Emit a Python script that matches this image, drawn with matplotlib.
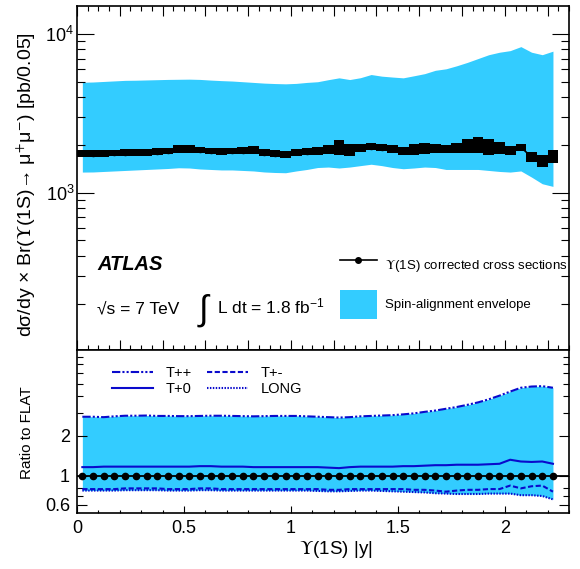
import matplotlib
matplotlib.use("Agg")
import matplotlib.pyplot as plt
import numpy as np
from matplotlib.font_manager import FontProperties
from matplotlib.lines import Line2D
from matplotlib.patches import Patch
from matplotlib.ticker import FixedLocator, MultipleLocator, NullFormatter, FixedFormatter

plt.rcParams["font.family"] = ["Liberation Sans", "DejaVu Sans"]
plt.rcParams["mathtext.fontset"] = "custom"
plt.rcParams["mathtext.rm"] = "Liberation Sans"
plt.rcParams["mathtext.it"] = "Liberation Sans:italic"
plt.rcParams["mathtext.bf"] = "Liberation Sans:bold"

# ---- data (bins of 0.05 in |y|) ----
y_centres = np.round(np.arange(0.025, 2.226, 0.05), 3)

xsec = [1770, 1760, 1770, 1780, 1790, 1800, 1800, 1810, 1830, 1880,
        1890, 1860, 1830, 1820, 1830, 1840, 1850, 1790, 1760, 1740,
        1800, 1810, 1830, 1870, 1930, 1860, 1900, 1950, 1920, 1880,
        1830, 1880, 1890, 1890, 1880, 1920, 1970, 1990, 1940, 1920,
        1850, 1930, 1680, 1590, 1690]
xsec_relerr = [0.05, 0.05, 0.05, 0.05, 0.05, 0.05, 0.05, 0.05, 0.05, 0.06,
               0.06, 0.05, 0.05, 0.05, 0.05, 0.05, 0.06, 0.05, 0.05, 0.05,
               0.05, 0.05, 0.055, 0.07, 0.12, 0.095, 0.06, 0.05, 0.055, 0.06,
               0.06, 0.085, 0.085, 0.07, 0.06, 0.077, 0.11, 0.12, 0.13, 0.09,
               0.07, 0.055, 0.077, 0.094, 0.097]
env_hi = [4960, 4980, 5020, 5060, 5100, 5110, 5130, 5150, 5170, 5180,
          5190, 5170, 5120, 5080, 5050, 5000, 4950, 4900, 4870, 4850,
          4880, 4950, 5000, 5150, 5290, 5160, 5300, 5550, 5420, 5350,
          5290, 5450, 5620, 5900, 6030, 6300, 6620, 7000, 7400, 7670,
          7850, 8320, 7670, 7400, 7790]
env_lo = [1348, 1350, 1360, 1370, 1380, 1390, 1400, 1410, 1420, 1435,
          1430, 1410, 1400, 1390, 1390, 1380, 1370, 1350, 1340, 1335,
          1370, 1400, 1440, 1450, 1430, 1450, 1480, 1510, 1480, 1440,
          1415, 1430, 1450, 1440, 1400, 1400, 1400, 1400, 1380, 1360,
          1348, 1370, 1253, 1138, 1095]

ratio_tpp = [2.80, 2.80, 2.78, 2.82, 2.85, 2.85, 2.86, 2.84, 2.84, 2.83,
             2.83, 2.84, 2.85, 2.85, 2.84, 2.83, 2.82, 2.83, 2.84, 2.84,
             2.84, 2.82, 2.80, 2.78, 2.76, 2.78, 2.82, 2.84, 2.86, 2.88,
             2.92, 2.97, 3.05, 3.12, 3.22, 3.32, 3.45, 3.60, 3.80, 4.05,
             4.35, 4.65, 4.75, 4.78, 4.65]
ratio_tp0 = [1.16, 1.16, 1.17, 1.17, 1.17, 1.17, 1.17, 1.17, 1.17, 1.17,
             1.17, 1.18, 1.18, 1.17, 1.17, 1.17, 1.16, 1.16, 1.16, 1.16,
             1.16, 1.16, 1.16, 1.15, 1.14, 1.16, 1.17, 1.17, 1.17, 1.17,
             1.18, 1.18, 1.19, 1.20, 1.20, 1.21, 1.21, 1.21, 1.22, 1.23,
             1.32, 1.28, 1.27, 1.28, 1.23]
ratio_tpm = [0.79, 0.79, 0.79, 0.79, 0.80, 0.80, 0.80, 0.80, 0.79, 0.79,
             0.79, 0.80, 0.80, 0.79, 0.79, 0.79, 0.79, 0.79, 0.79, 0.79,
             0.79, 0.79, 0.79, 0.78, 0.78, 0.79, 0.79, 0.79, 0.79, 0.79,
             0.79, 0.78, 0.78, 0.77, 0.755, 0.77, 0.78, 0.78, 0.79, 0.79,
             0.84, 0.80, 0.83, 0.84, 0.755]
ratio_long = [0.77, 0.77, 0.77, 0.77, 0.775, 0.775, 0.775, 0.775, 0.77, 0.77,
              0.77, 0.775, 0.775, 0.77, 0.77, 0.77, 0.77, 0.77, 0.77, 0.77,
              0.77, 0.77, 0.765, 0.76, 0.76, 0.765, 0.77, 0.77, 0.765, 0.76,
              0.755, 0.75, 0.745, 0.735, 0.73, 0.725, 0.725, 0.725, 0.73, 0.73,
              0.73, 0.71, 0.71, 0.70, 0.66]
ratio_flat = [1.0] * len(y_centres)

BAND = "#33ccff"
BLUE = "#0a0acc"
W, H = 580, 569
FAM = ["Liberation Sans", "DejaVu Sans"]


def fpos(px, py):
    return px / W, 1 - py / H


fig = plt.figure(figsize=(5.8, 5.69), dpi=100)
ax = fig.add_axes([77 / W, 1 - 350 / H, (569 - 77) / W, (350 - 6) / H])
axr = fig.add_axes([77 / W, 1 - 513 / H, (569 - 77) / W, (513 - 350) / H])

# ---- top: cross section ----
xs = np.asarray(xsec, float)
err = np.asarray(xsec_relerr)
ax.fill_between(y_centres, env_lo, env_hi, color=BAND, lw=0, zorder=1)
ax.bar(y_centres, xs * (1 + err) - xs / (1 + err), bottom=xs / (1 + err),
       width=0.05, color="black", lw=0, zorder=2)
ax.plot(y_centres, xs, color="black", lw=1.2, marker="o", ms=3, zorder=3)
ax.set_yscale("log")
ax.set_xlim(0, 2.3)
ax.set_ylim(102, 15000)
ax.set_yticks([1e3, 1e4])
ax.yaxis.set_minor_locator(FixedLocator([k * 10 ** e for e in (2, 3, 4) for k in range(2, 10)]))
ax.yaxis.set_minor_formatter(NullFormatter())
ax.xaxis.set_major_locator(MultipleLocator(0.2))
ax.xaxis.set_minor_locator(MultipleLocator(0.05))
ax.tick_params(axis="x", which="both", labelbottom=False)
ax.tick_params(which="both", direction="in", top=True, right=True, width=0.8)
ax.tick_params(axis="x", which="major", length=7)
ax.tick_params(axis="x", which="minor", length=3.5)
ax.tick_params(axis="y", which="major", length=12, labelsize=13, pad=2)
ax.tick_params(axis="y", which="minor", length=6)

leg_handles = [Line2D([], [], color="black", lw=1.2, marker="o", ms=4),
               Patch(facecolor=BAND, edgecolor="none")]
ax.legend(leg_handles, [r"$\Upsilon$(1S) corrected cross sections", "Spin-alignment envelope"],
          loc="upper left", bbox_to_anchor=fpos(340, 251), bbox_transform=fig.transFigure,
          frameon=False, prop=FontProperties(family=FAM, size=9.5, math_fontfamily="stix"),
          handlelength=2.8, handleheight=3.0, labelspacing=0.75, handletextpad=0.6,
          borderpad=0, borderaxespad=0)

fig.text(*fpos(97, 270), "ATLAS", fontsize=14.5, fontweight="bold", fontstyle="italic", va="baseline")
fig.text(*fpos(97, 313), "√s = 7 TeV", fontsize=12.5, va="baseline")
fig.text(*fpos(203, 310), "∫", fontsize=25, ha="center", va="center")
fig.text(*fpos(217, 313), r"L dt = 1.8 fb$^{\mathregular{-1}}$", fontsize=12.5, va="baseline")

# ---- bottom: ratio to FLAT ----
axr.fill_between(y_centres, ratio_long, ratio_tpp, color=BAND, lw=0, zorder=1)
axr.axhline(1.0, color="black", lw=1.3, zorder=2)
l_tpp, = axr.plot(y_centres, ratio_tpp, color=BLUE, lw=1.5, ls=(0, (4, 1, 1, 1, 1, 1)), zorder=3)
l_tpm, = axr.plot(y_centres, ratio_tpm, color=BLUE, lw=1.5, ls=(0, (2.5, 1.2)), zorder=3)
l_tp0, = axr.plot(y_centres, ratio_tp0, color=BLUE, lw=1.5, ls="-", zorder=3)
l_long, = axr.plot(y_centres, ratio_long, color=BLUE, lw=1.5, ls=(0, (0.7, 0.7)), zorder=3)
axr.plot(y_centres, ratio_flat, ls="none", marker="o", ms=4.5, color="black", zorder=4)
axr.set_yscale("log")
axr.set_xlim(0, 2.3)
axr.set_ylim(0.52, 9.0)
axr.yaxis.set_major_locator(FixedLocator([0.6, 1, 2]))
axr.yaxis.set_major_formatter(FixedFormatter(["0.6", "1", "2"]))
axr.yaxis.set_minor_locator(FixedLocator([0.7, 0.8, 3, 4, 5, 6, 7, 8]))
axr.yaxis.set_minor_formatter(NullFormatter())
axr.set_xticks([0, 0.5, 1, 1.5, 2])
axr.set_xticklabels(["0", "0.5", "1", "1.5", "2"])
axr.xaxis.set_minor_locator(MultipleLocator(0.1))
axr.tick_params(which="both", direction="in", right=True, top=False, width=0.8)
axr.tick_params(axis="x", which="major", length=5, labelsize=13, pad=5)
axr.tick_params(axis="x", which="minor", length=2.5)
axr.tick_params(axis="y", which="major", length=7, labelsize=13, pad=5)
axr.tick_params(axis="y", which="minor", length=4.5)

axr.legend([l_tpp, l_tp0, l_tpm, l_long], ["T++", "T+0", "T+-", "LONG"], ncol=2,
           loc="upper left", bbox_to_anchor=fpos(112, 366), bbox_transform=fig.transFigure,
           frameon=False, fontsize=10.5, handlelength=2.8, handletextpad=0.9,
           columnspacing=1.0, labelspacing=0.12, borderpad=0, borderaxespad=0)

for a in (ax, axr):
    for s in a.spines.values():
        s.set_linewidth(1.2)

fig.text(*fpos(26, 185), r"dσ/dy × Br($\Upsilon$(1S)→ μ$^{+}$μ$^{-}$) [pb/0.05]", rotation=90,
         ha="center", va="center", fontsize=14, math_fontfamily="stix")
fig.text(*fpos(27, 433), "Ratio to FLAT", rotation=90, ha="center", va="center", fontsize=11)
fig.text(*fpos(336, 550), r"$\Upsilon$(1S) |y|", ha="center", va="center", fontsize=13.5,
         math_fontfamily="stix")

fig.savefig("out.png", dpi=100)
